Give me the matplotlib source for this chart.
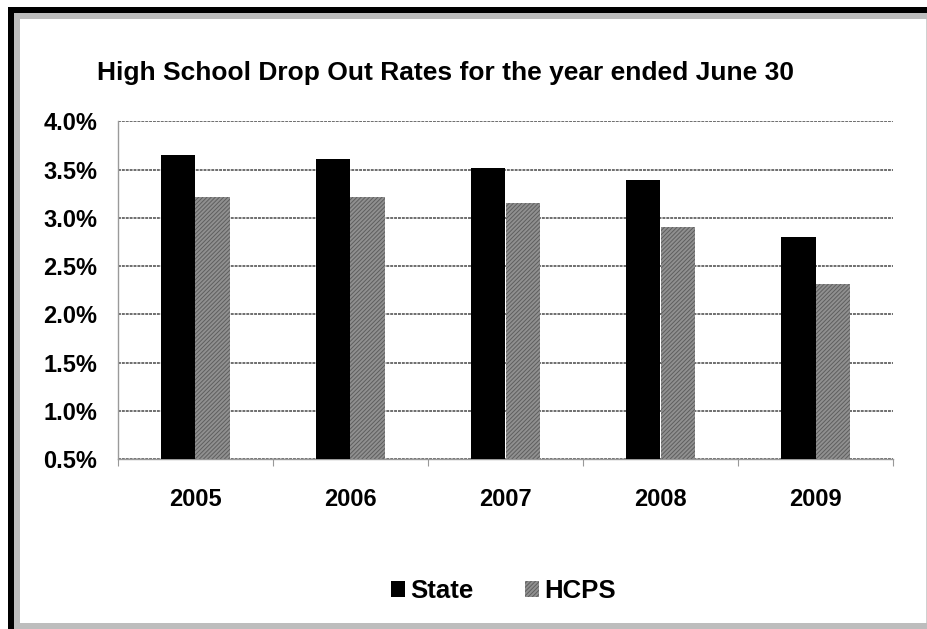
import numpy as np
import matplotlib.pyplot as plt
from matplotlib.patches import Rectangle

years = ['2005', '2006', '2007', '2008', '2009']
state = [3.65, 3.61, 3.52, 3.39, 2.80]
hcps = [3.22, 3.22, 3.15, 2.91, 2.32]

plt.rcParams['font.family'] = ['Liberation Sans', 'DejaVu Sans']
plt.rcParams['font.weight'] = 'bold'
plt.rcParams['hatch.linewidth'] = 0.7

W, H = 928, 629
fig = plt.figure(figsize=(W / 100, H / 100), dpi=100)

# frame: black top/left rule, stippled gray band inside it
def frect(x, y, w, h, **kw):
    fig.patches.append(Rectangle((x / W, 1 - (y + h) / H), w / W, h / H,
                                 transform=fig.transFigure, **kw))

frect(8, 7, W - 8, 6, facecolor='black', edgecolor='none')
frect(8, 7, 6, H - 7, facecolor='black', edgecolor='none')
frect(14, 13, W - 14, 6, facecolor='#bdbdbd', edgecolor='none')
frect(14, 13, 6, H - 13, facecolor='#bdbdbd', edgecolor='none')
frect(14, 623, W - 14, 6, facecolor='#bdbdbd', edgecolor='none')
frect(926, 19, 2, 604, facecolor='#d0d0d0', edgecolor='none')

ax = fig.add_axes([118 / W, 1 - 459.3 / H, (893 - 118) / W, (459.3 - 121.3) / H])

x = np.arange(len(years))
bw = 0.223
ax.bar(x - bw / 2, state, bw, color='black', label='State', zorder=3)
ax.bar(x + bw / 2, hcps, bw, color='#909090', edgecolor='#5e5e5e',
       hatch='////////', linewidth=0, label='HCPS', zorder=3)

ax.set_ylim(0.5, 4.0)
ax.set_xlim(-0.5, len(years) - 0.5)
yt = np.arange(0.5, 4.01, 0.5)
ax.set_yticks(yt)
ax.set_yticklabels(['%.1f%%' % v for v in yt], fontsize=17, fontweight='bold')
ax.tick_params(axis='y', length=0, pad=15)

ax.set_xticks(x)
ax.set_xticklabels(years, fontsize=17, fontweight='bold')
ax.tick_params(axis='x', length=0, pad=21)
ax.set_xticks(np.arange(-0.5, len(years)), minor=True)
ax.tick_params(axis='x', which='minor', length=5, color='#999999', width=0.8)

ax.yaxis.grid(True, color='#6e6e6e', linewidth=1.4, linestyle=(0, (1.5, 0.5)))
ax.set_axisbelow(True)
for s in ['top', 'right']:
    ax.spines[s].set_visible(False)
for s in ['left', 'bottom']:
    ax.spines[s].set_color('#9a9a9a')
    ax.spines[s].set_linewidth(1.0)

fig.text(97 / W, 1 - 73 / H, 'High School Drop Out Rates for the year ended June 30',
         fontsize=19, fontweight='bold', va='center', ha='left')

leg = fig.legend(loc='center', bbox_to_anchor=(503 / W, 1 - 591 / H), ncol=2,
                 frameon=False, fontsize=18.5, handlelength=0.55, handleheight=0.55,
                 handletextpad=0.2, columnspacing=2.0)
for t in leg.get_texts():
    t.set_fontweight('bold')

fig.savefig('out.png', dpi=100)
